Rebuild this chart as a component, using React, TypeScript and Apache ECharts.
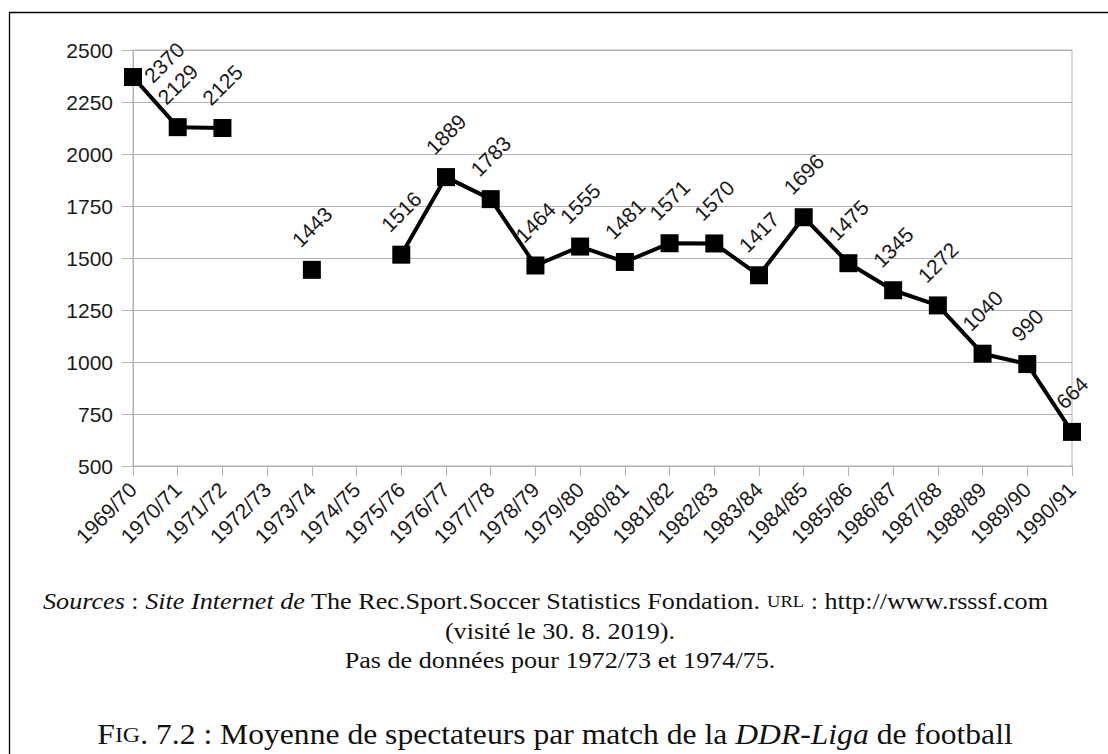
import React, { useEffect, useRef } from "react";
import * as echarts from "echarts";

const seasons = [
  "1969/70", "1970/71", "1971/72", "1972/73", "1973/74", "1974/75", "1975/76", "1976/77",
  "1977/78", "1978/79", "1979/80", "1980/81", "1981/82", "1982/83", "1983/84", "1984/85",
  "1985/86", "1986/87", "1987/88", "1988/89", "1989/90", "1990/91",
];
const spectators: (number | null)[] = [
  2370, 2129, 2125, null, 1443, null, 1516, 1889, 1783, 1464, 1555, 1481, 1571, 1570,
  1417, 1696, 1475, 1345, 1272, 1040, 990, 664,
];
const yMin = 500;
const yMax = 2500;
const yStep = 250;

const sourceLine1 =
  "{i|Sources} : {i|Site Internet de} The Rec.Sport.Soccer Statistics Fondation. {sc|URL} : http://www.rsssf.com";
const sourceLine2 = "(visité le 30. 8. 2019).";
const sourceLine3 = "Pas de données pour 1972/73 et 1974/75.";
const figCaption =
  "{big|F}{sc|IG}. 7.2 : Moyenne de spectateurs par match de la {i|DDR-Liga} de football";

const SANS = "'Liberation Sans', Arial, sans-serif";
const SERIF = "'Liberation Serif', 'DejaVu Serif', serif";
const INK = "#111";

export default function App() {
  const ref = useRef<HTMLDivElement>(null);
  useEffect(() => {
    if (!ref.current) return;
    const chart = echarts.init(ref.current, undefined, { renderer: "svg" });
    const data = spectators.map((v, i) =>
      v === null
        ? null
        : {
            value: v,
            label:
              i === 0
                ? { distance: 34, offset: [2, 42] }
                : { distance: String(v).length >= 4 ? 34 : 30 },
          }
    );
    const capStyle = { fontFamily: SERIF, fontSize: 24, fill: INK };
    chart.setOption({
      animation: false,
      backgroundColor: "#fff",
      grid: {
        left: 133,
        right: 36,
        top: 50,
        bottom: 288,
        show: true,
        borderColor: "#b3b3b3",
        borderWidth: 1,
        containLabel: false,
      },
      xAxis: {
        type: "category",
        data: seasons,
        boundaryGap: false,
        axisLine: { show: true, lineStyle: { color: "#b3b3b3", width: 1 } },
        axisTick: { show: true, length: 10, alignWithLabel: true, lineStyle: { color: "#b3b3b3" } },
        axisLabel: {
          interval: 0,
          rotate: 45,
          margin: 20,
          color: "#1a1a1a",
          fontFamily: SANS,
          fontSize: 21,
        },
        splitLine: { show: false },
      },
      yAxis: {
        type: "value",
        min: yMin,
        max: yMax,
        interval: yStep,
        axisLine: { show: true, lineStyle: { color: "#b3b3b3", width: 1 } },
        axisTick: { show: true, length: 11, lineStyle: { color: "#b3b3b3" } },
        axisLabel: {
          margin: 20,
          color: "#1a1a1a",
          fontFamily: SANS,
          fontSize: 21,
          formatter: (v: number) => String(v),
        },
        splitLine: { show: true, lineStyle: { color: "#b3b3b3", width: 1 } },
      },
      series: [
        {
          type: "line",
          data,
          connectNulls: false,
          showSymbol: true,
          showAllSymbol: true,
          symbol: "rect",
          symbolSize: 18,
          itemStyle: { color: "#000" },
          lineStyle: { color: "#000", width: 4 },
          label: {
            show: true,
            position: "top",
            rotate: 45,
            align: "center",
            verticalAlign: "middle",
            color: "#1a1a1a",
            fontFamily: SANS,
            fontSize: 21,
          },
        },
      ],
      graphic: [
        {
          type: "rect",
          shape: { x: 9.5, y: 12.5, width: 1200, height: 800 },
          style: { fill: "none", stroke: "#000", lineWidth: 1.3 },
          silent: true,
        },
        {
          type: "text",
          x: 43,
          y: 601,
          scaleX: 1.09,
          style: {
            ...capStyle,
            text: sourceLine1,
            textAlign: "left",
            textVerticalAlign: "middle",
            rich: {
              i: { fontFamily: SERIF, fontSize: 24, fontStyle: "italic", fill: INK },
              sc: { fontFamily: SERIF, fontSize: 17, fill: INK },
            },
          },
        },
        {
          type: "text",
          x: 560,
          y: 631,
          scaleX: 1.09,
          style: { ...capStyle, text: sourceLine2, textAlign: "center", textVerticalAlign: "middle" },
        },
        {
          type: "text",
          x: 560,
          y: 660,
          scaleX: 1.09,
          style: { ...capStyle, text: sourceLine3, textAlign: "center", textVerticalAlign: "middle" },
        },
        {
          type: "text",
          x: 555,
          y: 734,
          scaleX: 1.09,
          style: {
            fontFamily: SERIF,
            fontSize: 29,
            fill: INK,
            text: figCaption,
            textAlign: "center",
            textVerticalAlign: "middle",
            rich: {
              big: { fontFamily: SERIF, fontSize: 29, fill: INK },
              sc: { fontFamily: SERIF, fontSize: 22, fill: INK },
              i: { fontFamily: SERIF, fontSize: 29, fontStyle: "italic", fill: INK },
            },
          },
        },
      ],
    });
    return () => chart.dispose();
  }, []);
  return (
    <div
      ref={ref}
      style={{ position: "fixed", left: 0, top: 0, width: 1108, height: 754, background: "#fff" }}
    />
  );
}
